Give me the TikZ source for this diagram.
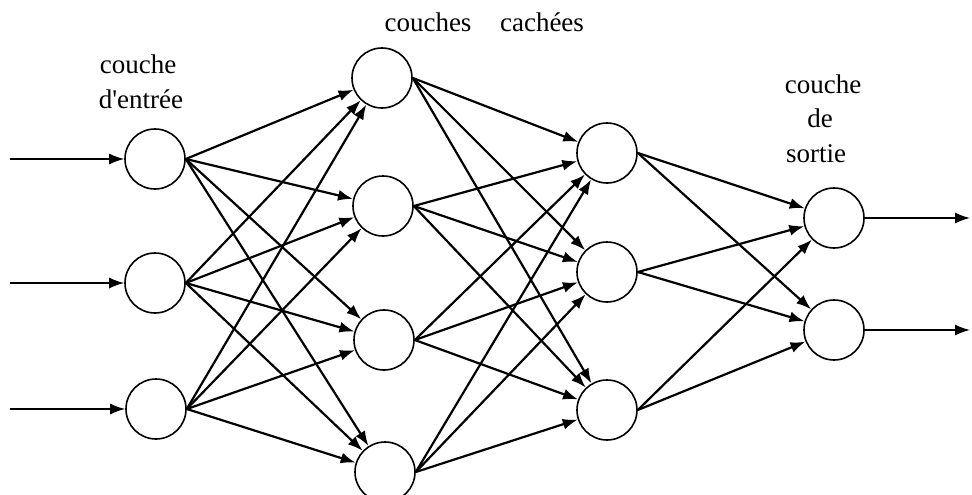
\documentclass[tikz,border=0pt]{standalone}
\usepackage{fontspec}
\setmainfont{Liberation Serif}
\usetikzlibrary{arrows.meta}
\begin{document}
\begin{tikzpicture}[x=1pt,y=-1pt,
  neuron/.style={circle,draw,line width=1.6pt,minimum size=60pt,inner sep=0pt},
  conn/.style={line width=2.2pt,-{Latex[length=15pt,width=11pt]}},
  io/.style={line width=1.5pt,-{Latex[length=15pt,width=11pt]}},
  lbl/.style={anchor=base,font=\fontsize{27}{30}\selectfont,inner sep=0pt}]
\useasboundingbox (0,0) rectangle (972,495);
% input layer
\node[neuron] (i1) at (155,159) {};
\node[neuron] (i2) at (155,283) {};
\node[neuron] (i3) at (156,409) {};
% hidden layer 1
\node[neuron] (a1) at (382,78) {};
\node[neuron] (a2) at (383,206) {};
\node[neuron] (a3) at (384,340) {};
\node[neuron] (a4) at (385,472) {};
% hidden layer 2
\node[neuron] (b1) at (607,153) {};
\node[neuron] (b2) at (607,272) {};
\node[neuron] (b3) at (607,410) {};
% output layer
\node[neuron] (o1) at (834,218) {};
\node[neuron] (o2) at (834,330) {};
% external inputs / outputs
\coordinate (s1) at (10,159);
\coordinate (s2) at (10,283);
\coordinate (s3) at (10,409);
\coordinate (e1) at (970,218);
\coordinate (e2) at (970,330);
\foreach \k in {1,2,3} \draw[io] (s\k) -- (i\k.west);
\foreach \k in {1,2} \draw[io] (o\k.east) -- (e\k);
% connections
\foreach \s in {1,2,3} \foreach \t in {1,2,3,4} \draw[conn] (i\s.east) -- (a\t);
\foreach \s in {1,2,3,4} \foreach \t in {1,2,3} \draw[conn] (a\s.east) -- (b\t);
\foreach \s in {1,2,3} \foreach \t in {1,2} \draw[conn] (b\s.east) -- (o\t);
% labels
\node[lbl] (l1) at (138,74) {couche};
\node[lbl] (l2) at (141,108) {d\textquotesingle entrée};
\node[lbl] (l3) at (428,32) {couches};
\node[lbl] (l4) at (542,32) {cachées};
\node[lbl] (l5) at (823,93) {couche};
\node[lbl] (l6) at (820,127) {de};
\node[lbl] (l7) at (816,162) {sortie};
\end{tikzpicture}
\end{document}
